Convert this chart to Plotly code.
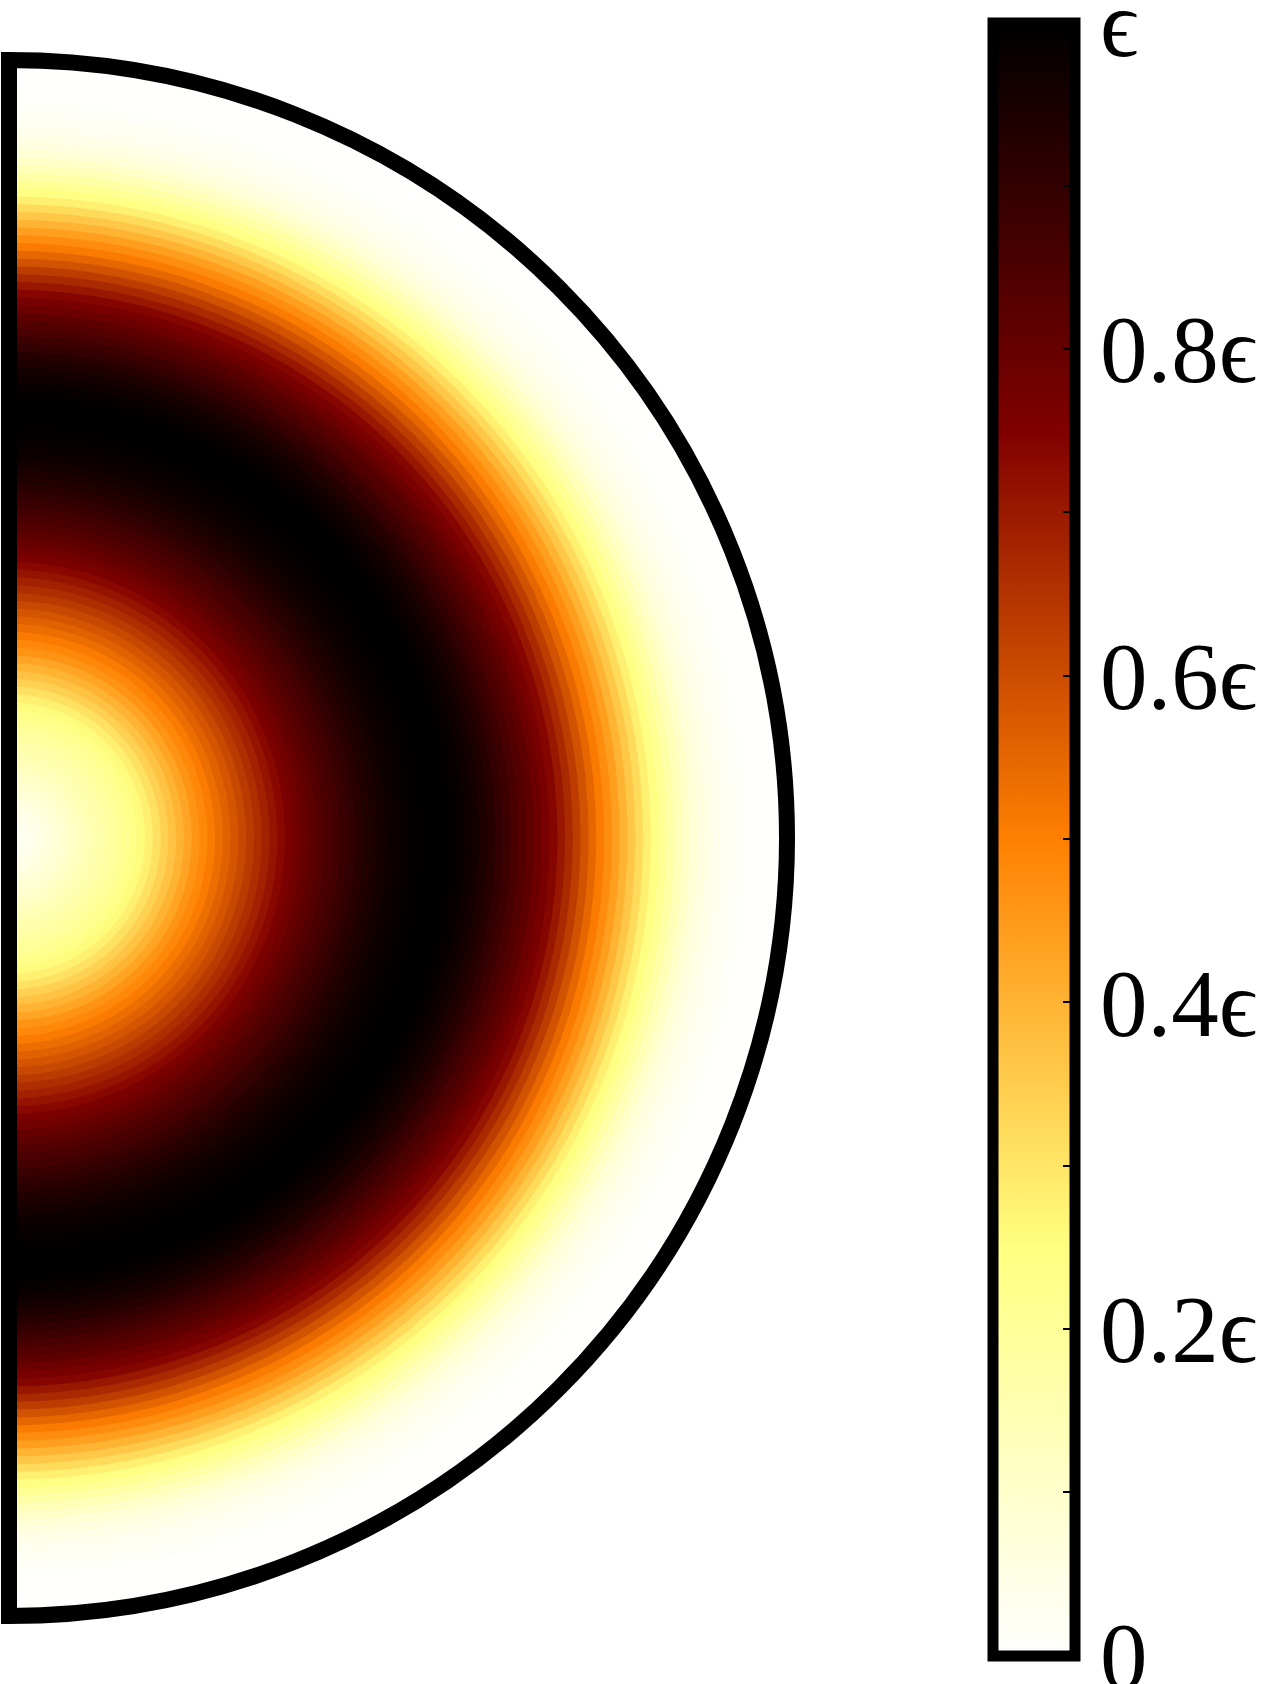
import plotly.graph_objects as go

# radial position (fraction of disk radius) and the colour value
radius = [i / 100 for i in range(101)]
value = [0.020, 0.025, 0.030, 0.040, 0.050, 0.065, 0.080, 0.095, 0.110, 0.125,
         0.140, 0.155, 0.170, 0.185, 0.200, 0.217, 0.235, 0.256, 0.280, 0.310,
         0.340, 0.370, 0.400, 0.430, 0.460, 0.485, 0.510, 0.535, 0.560, 0.585,
         0.610, 0.635, 0.660, 0.685, 0.710, 0.735, 0.760, 0.780, 0.800, 0.820,
         0.840, 0.855, 0.870, 0.888, 0.905, 0.920, 0.935, 0.948, 0.960, 0.970,
         0.980, 0.987, 0.993, 0.997, 1.000, 1.000, 0.998, 0.992, 0.985, 0.973,
         0.960, 0.943, 0.925, 0.903, 0.880, 0.860, 0.840, 0.815, 0.790, 0.765,
         0.740, 0.705, 0.670, 0.630, 0.590, 0.550, 0.510, 0.475, 0.440, 0.400,
         0.360, 0.320, 0.280, 0.245, 0.210, 0.175, 0.140, 0.110, 0.080, 0.062,
         0.045, 0.035, 0.025, 0.018, 0.012, 0.008, 0.005, 0.003, 0.002, 0.001,
         0.000]

tick_vals = [0, 0.1, 0.2, 0.3, 0.4, 0.5, 0.6, 0.7, 0.8, 0.9, 1.0]
tick_text = ["0", "", "0.2ϵ", "", "0.4ϵ", "", "0.6ϵ", "", "0.8ϵ", "", "ϵ"]

# afmhot reversed
afmhot_r = [[0.0, "#ffffff"], [0.25, "#ffff80"], [0.5, "#ff8000"],
            [0.75, "#800000"], [1.0, "#000000"]]

W, H = 1266, 1684
half_step = 0.005

# draw the rings outer first so every smaller disc paints over the larger one
order = sorted(range(len(radius)), key=lambda i: -radius[i])
r_outer = [min(radius[i] + half_step, 1.0) for i in order]
colors = [value[i] for i in order]

fig = go.Figure()
fig.add_trace(go.Barpolar(
    r=r_outer,
    theta=[0] * len(order),
    width=[180] * len(order),
    marker=dict(
        color=colors, colorscale=afmhot_r, cmin=0, cmax=1,
        line=dict(width=0),
        colorbar=dict(
            thickness=82, thicknessmode="pixels",
            len=1633, lenmode="pixels",
            x=993.5 / W, xanchor="left", xpad=0,
            y=1 - 839 / H, yanchor="middle", ypad=0,
            outlinewidth=11, outlinecolor="black",
            tickvals=tick_vals, ticktext=tick_text,
            ticks="inside", ticklen=17, tickwidth=2, tickcolor="black",
            ticklabeloverflow="allow",
            tickfont=dict(family="Liberation Serif, DejaVu Serif, serif",
                          size=95, color="black"),
        ),
    ),
    hoverinfo="skip",
))

fig.update_layout(
    width=W, height=H,
    margin=dict(l=0, r=0, t=0, b=0, autoexpand=False),
    paper_bgcolor="white",
    showlegend=False,
    polar=dict(
        domain=dict(x=[9 / W, 787 / W], y=[1 - 1616 / H, 1 - 60 / H]),
        sector=[-90, 90],
        bgcolor="white",
        barmode="overlay",
        radialaxis=dict(range=[0, 1], visible=False),
        angularaxis=dict(showline=True, linecolor="black", linewidth=16,
                         showgrid=False, showticklabels=False, ticks=""),
    ),
)

fig.write_html("out.html", config={"displayModeBar": False},
               post_script="document.body.style.margin='0';")
